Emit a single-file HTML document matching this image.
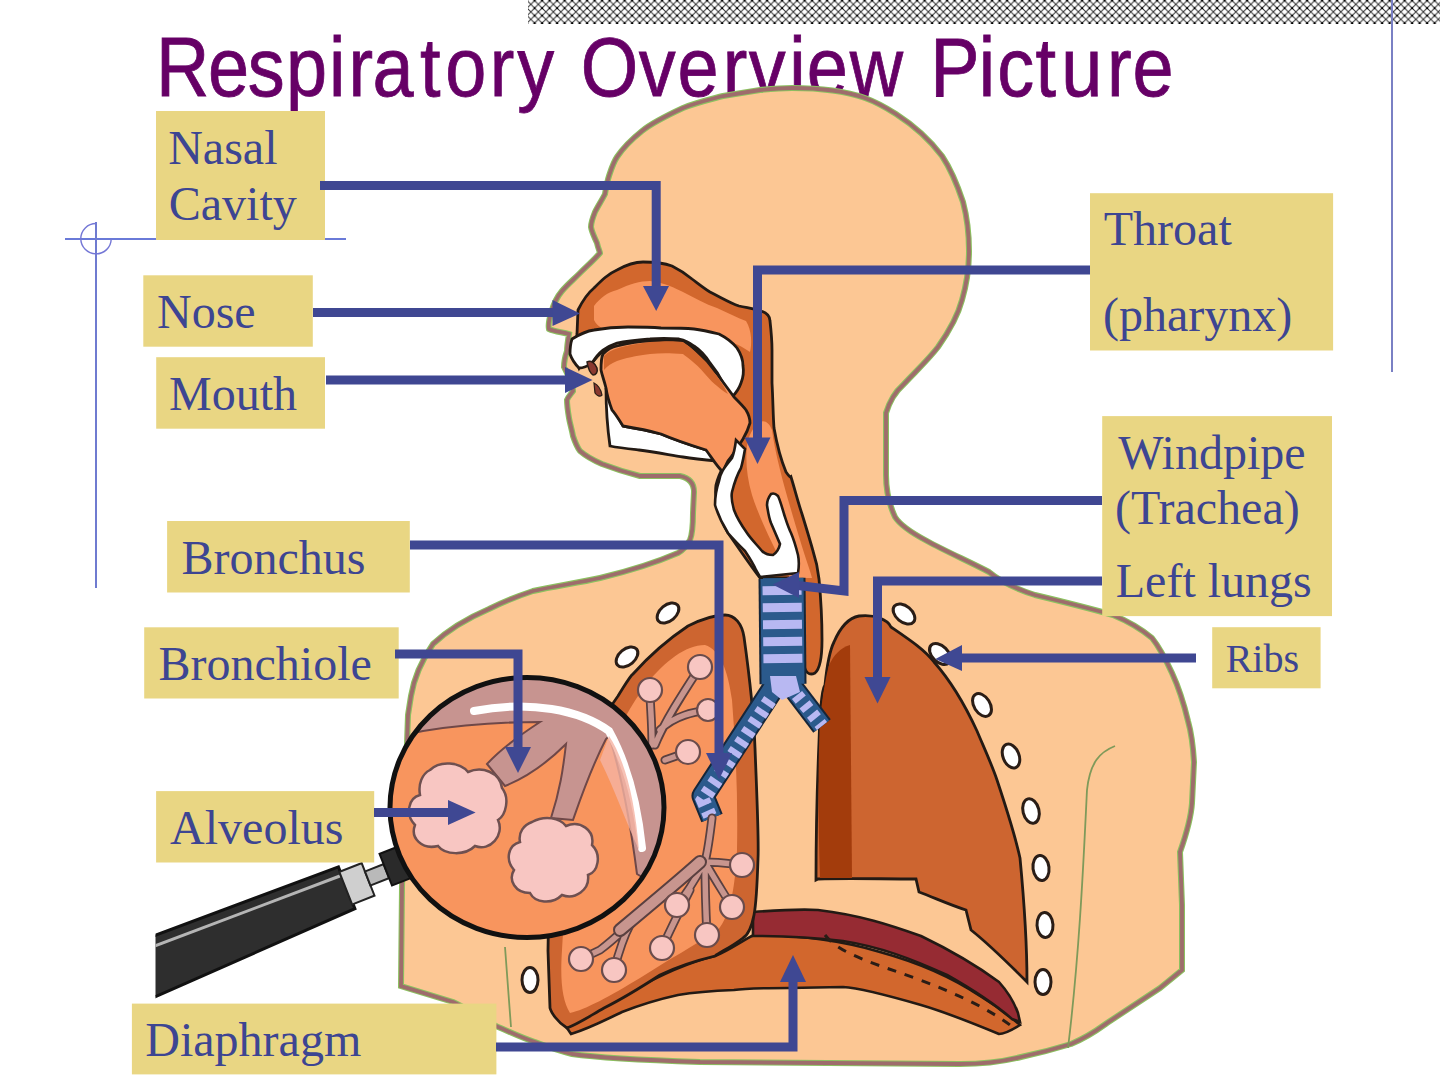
<!DOCTYPE html>
<html><head><meta charset="utf-8"><title>Respiratory Overview Picture</title>
<style>
html,body{margin:0;padding:0;background:#fff;width:1440px;height:1080px;overflow:hidden}
svg{display:block}
.lb{fill:#e9d683}
.tx{font-family:"Liberation Serif",serif;font-size:48px;fill:#3d4592}
.ar{stroke:#3f4792;stroke-width:9;fill:none;stroke-linejoin:miter;stroke-linecap:butt}
.ah{fill:#3f4893}
</style></head>
<body>
<svg width="1440" height="1080" viewBox="0 0 1440 1080">
<defs>
<pattern id="chk" x="534.6" y="0.6" width="7.5" height="7.5" patternUnits="userSpaceOnUse">
<rect width="7.5" height="7.5" fill="#fff"/>
<path d="M0 0L7.5 7.5M7.5 0L0 7.5" stroke="#333" stroke-width="1.05"/><circle cx="0" cy="0" r="1.1" fill="#000"/><circle cx="7.5" cy="0" r="1.1" fill="#000"/><circle cx="0" cy="7.5" r="1.1" fill="#000"/><circle cx="7.5" cy="7.5" r="1.1" fill="#000"/>
</pattern>
</defs>
<!-- top pattern bar -->
<rect x="528" y="0" width="912" height="24" fill="url(#chk)"/>
<!-- decoration lines -->
<g stroke="#6d82d6" stroke-width="2" fill="none">
<line x1="1392" y1="0" x2="1392" y2="372" stroke="#7a80c4"/>
<line x1="65" y1="239" x2="346" y2="239" stroke="#6a7ad8"/>
<line x1="96" y1="222" x2="96" y2="588" stroke="#6f7bd0"/>
<path d="M96 223.5A15.2 15.2 0 1 0 111.2 239" stroke="#7477d6" stroke-width="1.4"/>
</g>

<!-- title -->
<text transform="scale(0.89 1)" x="175.3 233.7 278.4 321.3 369.8 391.6 418.5 471.8 500.4 550.2 581.1 622.6 652.6 717.7 761.3 812.0 841.4 886.9 906.6 954.9 1014.8 1045.3 1099.7 1120.6 1163.4 1192.4 1243.9 1272.5" y="96" font-family="Liberation Sans, sans-serif" font-size="83" fill="#660066" stroke="#660066" stroke-width="0.8">Respiratory Overview Picture</text>
<!-- BODY ILLUSTRATION -->
<g id="body">
<!-- silhouette: green fringe + mauve outline -->
<path id="silp" d="M792 88 C780 88 770 89 760 90 C748 92 735 94 723 96 C708 100 695 103 683 108 C668 115 653 122 642 131 C632 139 623 148 617 157 C613 163 611 170 609 176 C607 182 606 188 605 194 C602 200 598 206 595 212 C593 217 591 222 591 227 C592 233 595 238 597 243 C598 248 600 252 600 253 C594 260 586 267 580 273 C573 280 567 285 562 291 C556 298 553 306 551 313 C549 320 548 325 549 329 C555 332 563 332 569 334 C568 340 567 346 567 351 C565 357 564 362 564 367 C566 371 568 375 569 378 C571 383 573 387 573 391 C571 394 568 397 567 400 C567 406 568 412 569 418 C570 424 572 430 573 436 C575 442 577 447 580 451 C587 457 595 461 602 464 C615 469 628 473 640 476 C655 476 670 476 680 476 C690 478 694 484 694 492 L693 513 C693 525 692 535 690 540 C686 547 682 551 678 553 C655 563 625 572 600 578 C578 583 555 586 533 591 C518 596 503 602 489 609 C468 618 448 630 433 644 C422 660 414 678 411 696 C410 702 409 709 408 715 L402 887 L401 986 C420 992 440 998 453 1002 C470 1010 485 1020 496 1026 C510 1032 522 1038 535 1042 C548 1047 560 1051 572 1054 C600 1058 640 1060 700 1062 L960 1064 C985 1064 1005 1061 1021 1057 C1040 1053 1058 1048 1071 1044 C1090 1036 1100 1028 1107 1023 C1130 1008 1145 998 1160 988 L1182 970 L1182 905 L1180 852 C1186 835 1191 818 1192 803 L1194 762 C1193 745 1192 735 1188 721 C1183 700 1178 686 1172 673 C1166 660 1160 648 1152 638 C1140 628 1125 620 1113 615 C1085 607 1060 601 1035 595 C1010 587 995 577 989 572 C970 562 945 551 927 541 C910 532 900 525 895 517 C888 502 886 490 886 475 L886 413 C890 400 895 392 903 385 C915 372 928 360 938 347 C950 330 958 315 962 300 C967 283 969 268 969 251 C969 234 967 217 963 202 C957 184 950 168 942 156 C930 140 913 125 896 114 C885 107 876 102 865 98 C845 91 820 88 792 88 Z" fill="#fcc794" stroke="#8cc060" stroke-width="6"/>
<path d="M792 88 C780 88 770 89 760 90 C748 92 735 94 723 96 C708 100 695 103 683 108 C668 115 653 122 642 131 C632 139 623 148 617 157 C613 163 611 170 609 176 C607 182 606 188 605 194 C602 200 598 206 595 212 C593 217 591 222 591 227 C592 233 595 238 597 243 C598 248 600 252 600 253 C594 260 586 267 580 273 C573 280 567 285 562 291 C556 298 553 306 551 313 C549 320 548 325 549 329 C555 332 563 332 569 334 C568 340 567 346 567 351 C565 357 564 362 564 367 C566 371 568 375 569 378 C571 383 573 387 573 391 C571 394 568 397 567 400 C567 406 568 412 569 418 C570 424 572 430 573 436 C575 442 577 447 580 451 C587 457 595 461 602 464 C615 469 628 473 640 476 C655 476 670 476 680 476 C690 478 694 484 694 492 L693 513 C693 525 692 535 690 540 C686 547 682 551 678 553 C655 563 625 572 600 578 C578 583 555 586 533 591 C518 596 503 602 489 609 C468 618 448 630 433 644 C422 660 414 678 411 696 C410 702 409 709 408 715 L402 887 L401 986 C420 992 440 998 453 1002 C470 1010 485 1020 496 1026 C510 1032 522 1038 535 1042 C548 1047 560 1051 572 1054 C600 1058 640 1060 700 1062 L960 1064 C985 1064 1005 1061 1021 1057 C1040 1053 1058 1048 1071 1044 C1090 1036 1100 1028 1107 1023 C1130 1008 1145 998 1160 988 L1182 970 L1182 905 L1180 852 C1186 835 1191 818 1192 803 L1194 762 C1193 745 1192 735 1188 721 C1183 700 1178 686 1172 673 C1166 660 1160 648 1152 638 C1140 628 1125 620 1113 615 C1085 607 1060 601 1035 595 C1010 587 995 577 989 572 C970 562 945 551 927 541 C910 532 900 525 895 517 C888 502 886 490 886 475 L886 413 C890 400 895 392 903 385 C915 372 928 360 938 347 C950 330 958 315 962 300 C967 283 969 268 969 251 C969 234 967 217 963 202 C957 184 950 168 942 156 C930 140 913 125 896 114 C885 107 876 102 865 98 C845 91 820 88 792 88 Z" fill="none" stroke="#9e6c6c" stroke-width="3.8"/>
<!-- inner body green lines -->
<path d="M1115 746 C1100 752 1090 762 1087 790 C1084 850 1080 950 1068 1048" fill="none" stroke="#7f9a5a" stroke-width="1.8"/>
<path d="M505 947 C507 975 509 1000 511 1027" fill="none" stroke="#7f9a5a" stroke-width="1.8"/>

<!-- nasal cavity & pharynx (dark orange) -->
<path d="M577 334 L578 310 C583 300 588 293 594 288 C602 280 608 274 617 270 C626 265 635 262 643 262 C655 262 664 263 672 266 C680 270 686 274 692 279 C700 285 705 289 710 292 C722 298 730 303 739 306 C748 308 755 309 761 311 C767 313 770 317 770 321 C771 330 772 340 772 350 L772 383 C773 400 773 415 774 428 C777 445 781 460 786 472 C790 478 791 477 791 477 C795 490 798 502 802 514 C806 527 810 540 813 551 C816 560 818 570 819 579 C821 600 822 620 822 640 C822 655 821 668 815 673 C809 676 805 672 804 665 L803 578 L760 578 C750 565 740 550 728 533 C718 515 714 500 716 485 C720 470 726 462 732 458 C736 450 738 445 740 440 C742 430 742 420 738 410 C735 400 732 395 733 397 C726 380 718 368 710 363 C700 352 690 344 679 339 C660 338 640 339 617 343 C606 347 598 355 592 363 C586 366 580 366 579 368 C576 360 576 345 577 334 Z" fill="#d2672d" stroke="#231a14" stroke-width="2.8"/>
<path d="M594 306 C600 298 608 292 617 290 C630 284 640 281 650 281 C665 283 675 288 683 292 C695 298 705 304 717 308 C728 313 738 318 746 321 C752 330 752 345 750 352 C740 345 725 338 705 334 C680 330 650 328 620 330 C605 331 598 328 594 320 Z" fill="#f8955e"/>
<path d="M748 440 C755 420 766 415 772 430 C776 460 788 500 800 540 C806 560 810 570 812 578 L790 578 C775 550 760 520 752 495 C746 475 745 455 748 440 Z" fill="#f8955e"/>
<!-- white palate -->
<path d="M570 354 C570 346 571 342 572 339 C580 334 587 331 594 330 C605 328 615 327 628 327 C640 327 650 327 661 328 C672 328 684 328 694 329 C703 330 711 332 719 334 C727 338 733 343 737 348 C741 354 743 360 743 366 C744 372 743 378 741 383 C739 389 736 393 732 397 C729 392 726 388 723 383 C719 375 715 369 710 363 C705 355 700 350 694 346 C689 342 684 340 679 339 C668 338 659 338 650 339 C638 340 627 341 617 343 C611 345 607 347 603 350 C598 354 595 358 592 363 C588 366 583 368 579 368 C575 364 572 360 570 354 Z" fill="#fff" stroke="#231a14" stroke-width="2.8"/>
<!-- lower jaw white -->
<path d="M606 388 C606 405 607 425 610 446 C620 448 630 449 639 450 C655 452 670 455 683 457 C695 459 706 460 717 461 C725 462 732 463 739 463 C735 458 725 455 716 452 C712 451 709 450 706 450 C690 445 675 440 661 434 C650 431 635 428 623 426 C618 418 616 412 614 406 C611 400 608 394 606 388 Z" fill="#fff" stroke="#231a14" stroke-width="2.8"/>
<!-- tongue -->
<path d="M603 354 C608 349 612 347 617 346 C628 343 640 341 650 341 C662 340 672 340 683 341 C690 345 696 350 701 357 C707 363 711 368 717 374 C723 382 729 390 734 397 C739 402 743 406 746 410 C749 415 750 419 750 423 C748 430 746 434 743 439 C738 447 733 455 728 461 C726 465 724 469 723 472 C718 468 712 458 706 450 C690 445 675 440 661 434 C650 431 635 428 623 426 C618 418 614 412 612 410 C609 402 607 395 606 388 C604 380 602 375 601 370 C601 364 601 358 603 354 Z" fill="#f8955e" stroke="#231a14" stroke-width="2.8"/>
<path d="M604 356 C610 349 625 345 650 342 C665 341 675 341 683 342 C692 348 700 356 706 362 C714 372 722 382 728 394 C718 388 710 380 705 374 C695 362 685 356 683 354 C670 353 660 353 650 354 C635 356 625 358 617 361 C612 363 607 366 604 370 Z" fill="#d2672d"/>
<path d="M587 362 C591 360 595 363 597 368 C598 372 596 375 593 375 C590 373 588 368 587 362 Z" fill="#8a3a30" stroke="#2a1d16" stroke-width="1.5"/><path d="M594 383 C598 385 601 390 602 395 C600 397 597 396 595 393 Z" fill="#8a3a30" stroke="#2a1d16" stroke-width="1.2"/>
<!-- epiglottis white -->
<path d="M736 440 C735 448 734 453 732 458 C726 466 720 472 719 481 C716 490 715 498 715 505 C718 515 723 525 728 533 C734 540 740 546 745 551 C749 557 753 563 756 570 L760 577 L798 573 C799 567 799 560 798 555 C796 547 794 540 791 533 C788 527 786 520 784 514 C782 507 780 500 778 496 C776 494 773 493 771 494 C768 498 767 502 767 505 C768 512 769 518 771 523 C774 530 777 537 780 544 C779 549 776 553 773 555 C770 555 765 554 762 551 C757 545 751 539 747 533 C742 526 737 518 734 510 C732 503 731 497 732 492 C734 484 737 475 741 468 C743 461 744 455 745 449 Z" fill="#fff" stroke="#231a14" stroke-width="2.6"/>

<!-- right lung (viewer's left) diaphragm strip -->
<path d="M567 1028 C585 1018 604 1008 630 992 C660 975 690 962 715 956 C730 950 743 940 754 935 C800 935 843 941 880 952 C920 963 950 976 980 996 C1000 1008 1012 1018 1020 1025 C1012 1030 1005 1034 999 1034 C970 1022 945 1012 921 1005 C890 996 860 988 843 987 L789 988 C760 988 740 989 734 990 C710 991 690 993 678 995 C655 1000 640 1005 622 1012 C605 1020 590 1028 571 1034 Z" fill="#d2672d" stroke="#231a14" stroke-width="2.6"/>
<!-- red band -->
<path d="M753 912 C780 910 800 909 818 910 C860 915 890 925 921 936 C950 950 980 968 999 982 C1008 992 1014 1002 1018 1013 L1020 1022 L1012 1019 C990 1000 970 988 947 975 C910 958 880 947 843 941 C810 937 780 936 753 936 Z" fill="#962b33" stroke="#231a14" stroke-width="2.6"/>
<!-- dashed line -->
<path d="M825 935 C840 955 880 965 920 980 C960 995 990 1010 1010 1025" fill="none" stroke="#2a1d16" stroke-width="3" stroke-dasharray="9 9"/>

<!-- left lung (viewer's right) -->
<path d="M859 616 C875 614 888 620 891 627 C910 640 925 650 934 662 C950 680 965 705 977 731 C985 750 992 765 997 780 C1007 810 1015 835 1020 858 C1024 900 1027 950 1027 982 C1010 965 990 945 971 930 L966 910 C950 905 935 898 919 892 L916 879 C880 879 850 878 818 879 L816 880 C816 830 817 790 819 742 C820 710 822 685 825 685 C827 665 830 650 834 642 C840 628 848 618 859 616 Z" fill="#cd6530" stroke="#231a14" stroke-width="2.8"/>
<path d="M829 665 C834 655 840 648 850 645 L852 878 L820 878 C818 820 818 760 820 720 C822 700 825 680 829 665 Z" fill="#a33c0c"/>

<!-- right lung (viewer's left) -->
<path d="M725 615 C735 615 742 624 744 637 C750 680 754 720 755 748 C757 800 759 840 758 859 C757 890 756 905 754 915 C752 925 748 935 743 938 C730 948 720 952 715 956 C690 962 670 970 660 975 C640 988 620 1000 604 1008 C590 1016 578 1024 567 1028 C557 1022 551 1012 550 1008 L548 951 C548 900 555 850 570 800 C585 760 600 720 618 696 C625 685 630 676 633 674 C650 655 670 638 688 626 C700 620 712 615 725 615 Z" fill="#cd6530" stroke="#231a14" stroke-width="2.8"/>
<path d="M705 645 C720 650 728 670 732 700 C736 750 738 800 737 850 C735 890 730 915 718 930 C695 945 668 960 640 978 C610 996 585 1010 570 1013 C562 1000 560 980 562 950 C566 880 580 820 600 770 C615 735 630 705 648 682 C665 662 685 645 705 645 Z" fill="#f8955e"/>
<!-- trachea -->
<g id="trachea" fill="none">
<path d="M776 684 L703 796 L712 818" stroke="#16263a" stroke-width="23" stroke-linejoin="round"/>
<path d="M790 684 L822 726" stroke="#16263a" stroke-width="22"/>
<path d="M782 578 L783 684" stroke="#16263a" stroke-width="47"/>
<path d="M776 684 L703 796 L712 818" stroke="#2b5a8c" stroke-width="19" stroke-linejoin="round"/>
<path d="M790 684 L822 726" stroke="#2b5a8c" stroke-width="18"/>
<path d="M782 578 L783 684" stroke="#2b5a8c" stroke-width="43"/>
<path d="M782 586 L783 666" stroke="#b8b8f2" stroke-width="39" stroke-dasharray="9 8"/>
<path d="M770 700 L703 800 L710 816" stroke="#b8b8f2" stroke-width="14" stroke-dasharray="6 6"/>
<path d="M797 695 L822 726" stroke="#b8b8f2" stroke-width="13" stroke-dasharray="6 6"/>
<path d="M770 676 L796 676 L800 692 L782 700 L772 692 Z" fill="#b8b8f2"/>
</g>
<!-- bronchial tree in right lung -->
<g fill="none" stroke-linecap="round" stroke-linejoin="round">
<path d="M652 745 C652 720 650 705 650 690 M655 745 C665 720 685 690 700 667 M660 730 C675 715 695 712 708 710 M665 760 L688 752 M712 818 C710 835 708 850 705 862 M705 862 C720 862 732 864 742 865 M705 862 C715 880 725 895 732 907 M705 862 C705 895 706 915 707 935 M703 865 C695 880 687 893 677 905 M690 868 C670 890 650 905 630 925 C622 940 618 955 614 970 M660 895 C640 915 620 935 600 950 L581 959 M690 890 C680 910 670 930 662 948" stroke="#5a4040" stroke-width="9"/>
<path d="M652 745 C652 720 650 705 650 690 M655 745 C665 720 685 690 700 667 M660 730 C675 715 695 712 708 710 M665 760 L688 752 M712 818 C710 835 708 850 705 862 M705 862 C720 862 732 864 742 865 M705 862 C715 880 725 895 732 907 M705 862 C705 895 706 915 707 935 M703 865 C695 880 687 893 677 905 M690 868 C670 890 650 905 630 925 C622 940 618 955 614 970 M660 895 C640 915 620 935 600 950 L581 959 M690 890 C680 910 670 930 662 948" stroke="#c8958e" stroke-width="5.5"/>
<path d="M700 862 C680 880 650 905 620 930" stroke="#5a4040" stroke-width="14"/>
<path d="M700 862 C680 880 650 905 620 930" stroke="#c8958e" stroke-width="10"/>
</g>
<g fill="#f8c6c2" stroke="#6a4c4c" stroke-width="2.2">
<circle cx="650" cy="690" r="12"/><circle cx="700" cy="667" r="12"/><circle cx="708" cy="710" r="11"/><circle cx="688" cy="752" r="12"/><circle cx="742" cy="865" r="12"/><circle cx="677" cy="905" r="12"/><circle cx="732" cy="907" r="12"/><circle cx="707" cy="935" r="12"/><circle cx="662" cy="948" r="12"/><circle cx="614" cy="970" r="12"/><circle cx="581" cy="959" r="12"/>
</g>
<!-- ribs -->
<g fill="#fff" stroke="#2a1d16" stroke-width="3">
<ellipse cx="904" cy="614" rx="8" ry="12.5" transform="rotate(-50 904 614)"/>
<ellipse cx="940" cy="654" rx="8" ry="12.5" transform="rotate(-45 940 654)"/>
<ellipse cx="982" cy="705" rx="8" ry="12.5" transform="rotate(-32 982 705)"/>
<ellipse cx="1011" cy="756" rx="8" ry="12.5" transform="rotate(-22 1011 756)"/>
<ellipse cx="1031" cy="811" rx="8" ry="12.5" transform="rotate(-14 1031 811)"/>
<ellipse cx="1041" cy="868" rx="8" ry="12.5" transform="rotate(-7 1041 868)"/>
<ellipse cx="1045" cy="925" rx="8" ry="12.5" transform="rotate(-3 1045 925)"/>
<ellipse cx="1043" cy="982" rx="8" ry="12.5"/>
<ellipse cx="668" cy="613" rx="8" ry="12.5" transform="rotate(50 668 613)"/>
<ellipse cx="627" cy="657" rx="8" ry="12.5" transform="rotate(50 627 657)"/>
<ellipse cx="530" cy="980" rx="8" ry="12.5"/>
</g>
<!-- magnifier -->
<g id="mag">
<clipPath id="hc"><rect x="155.5" y="600" width="400" height="480"/></clipPath>
<g clip-path="url(#hc)"><g transform="translate(155 966) rotate(-21.5)">
<path d="M-20 -29 L207 -25 L207 20 L-20 29 Z" fill="#2e2e2e" stroke="#111" stroke-width="3"/>
<path d="M-20 -19 L205 -16" stroke="#b5b5b5" stroke-width="3"/>
<rect x="206" y="-20" width="24" height="35" fill="#cfcfcf" stroke="#222" stroke-width="2"/>
<rect x="230" y="-11" width="20" height="15" fill="#b9b9b9" stroke="#222" stroke-width="2"/>
<rect x="250" y="-22" width="26" height="34" fill="#2a2a2a" stroke="#111" stroke-width="2"/>
</g></g>
<clipPath id="mc"><ellipse cx="527" cy="807.5" rx="137" ry="130"/></clipPath>
<ellipse cx="527" cy="807.5" rx="137" ry="130" fill="#f8955e"/>
<g clip-path="url(#mc)">
<path d="M380 650 L680 650 L680 900 L637 874 C630 820 620 770 609 736 L606 739 C590 770 580 800 573 820 L551 818 C560 790 563 770 566 744 C545 765 525 778 505 786 L487 764 C500 750 520 735 540 722 C500 722 460 725 423 731 L380 740 Z" fill="#c79490" stroke="#6f4848" stroke-width="2"/>
<path d="M474 711 C530 700 580 710 609 731 C625 760 637 800 642 848" fill="none" stroke="#fff" stroke-width="8" stroke-linecap="round"/>
<path d="M609 736 C625 760 635 800 639 850 C625 820 615 790 600 760 Z" fill="#f5b3a3" opacity="0.8"/>
</g>
<ellipse cx="527" cy="807.5" rx="137" ry="130" fill="none" stroke="#111" stroke-width="5"/>
<!-- alveoli clouds -->
<g fill="#f8c6c2" stroke="#6f5050" stroke-width="2.5">
<path d="M430 770 C440 760 460 762 468 772 C482 766 500 772 502 788 C510 798 506 815 498 820 C505 835 490 852 475 846 C465 856 445 855 438 846 C422 850 410 838 415 825 C405 815 408 798 420 795 C418 784 422 774 430 770 Z"/>
<path d="M532 822 C545 815 560 818 566 826 C580 820 595 830 592 845 C602 855 598 872 588 875 C590 890 575 900 562 895 C552 905 535 903 530 893 C515 893 508 880 514 870 C505 860 508 845 520 842 C518 832 524 825 532 822 Z"/>
</g>
</g>
</g>


<!-- label boxes -->
<rect class="lb" x="156" y="111" width="169" height="129"/>
<rect class="lb" x="143.3" y="275.3" width="169.5" height="71.4"/>
<rect class="lb" x="156.2" y="357.2" width="168.8" height="71.5"/>
<rect class="lb" x="167.1" y="521" width="242.7" height="71.5"/>
<rect class="lb" x="144.2" y="627.3" width="254.5" height="71.2"/>
<rect class="lb" x="156.1" y="791.1" width="218.1" height="71.4"/>
<rect class="lb" x="131.9" y="1003.6" width="364.5" height="70.8"/>
<rect class="lb" x="1090" y="193.2" width="243.1" height="157.3"/>
<rect class="lb" x="1102.2" y="416.1" width="229.8" height="200"/>
<rect class="lb" x="1212.2" y="627.2" width="108.4" height="61.1"/>

<g class="tx" transform="translate(-0.7 0.8)">
<text x="168.9" y="163.2">Nasal</text>
<text x="169.5" y="219.7">Cavity</text>
<text x="157.7" y="327.2">Nose</text>
<text x="169.8" y="408.8">Mouth</text>
<text x="182.1" y="573.1">Bronchus</text>
<text x="159.2" y="678.8">Bronchiole</text>
<text x="170.8" y="843">Alveolus</text>
<text x="146" y="1055">Diaphragm</text>
<text x="1104.5" y="244.7">Throat</text>
<text x="1103.7" y="330.7">(pharynx)</text>
<text x="1118.9" y="468">Windpipe</text>
<text x="1115.6" y="523.6">(Trachea)</text>
<text x="1116.5" y="596.7">Left lungs</text>
<text x="1226.4" y="671.4" style="font-size:40px">Ribs</text>
</g>

<!-- arrows -->
<g>
<path class="ar" d="M320 185.4H656.2V290"/>
<path class="ah" d="M643 286L669 286L656.2 311Z"/>
<path class="ar" d="M313 312.5H556"/>
<path class="ah" d="M552.5 300L580 313.5L552.5 326Z"/>
<path class="ar" d="M326 380H568"/>
<path class="ah" d="M565 367L592.5 380L565 393Z"/>
<path class="ar" d="M1090 270H757.5V440"/>
<path class="ah" d="M744.5 437.5L770.5 437.5L757.5 464Z"/>
<path class="ar" d="M1102 500.5H844V591L798 585.5"/>
<path class="ah" d="M799 572L799 598L772.6 584.5Z"/>
<path class="ar" d="M1102 581H877.5V680"/>
<path class="ah" d="M864.5 677L890.5 677L877.5 703.5Z"/>
<path class="ar" d="M1196 658H960"/>
<path class="ah" d="M962 645L962 671L935.4 659Z"/>
<path class="ar" d="M410 545H719V755"/>
<path class="ah" d="M706 753L732 753L719 779.5Z"/>
<path class="ar" d="M395 654H518V750"/>
<path class="ah" d="M505 747L531 747L518 773Z"/>
<path class="ar" d="M374 812.5H450"/>
<path class="ah" d="M448 800L475.6 812.5L448 825Z"/>
<path class="ar" d="M496 1047H793V980"/>
<path class="ah" d="M780 982L806 982L793 955Z"/>
</g>
</svg>
</body></html>
